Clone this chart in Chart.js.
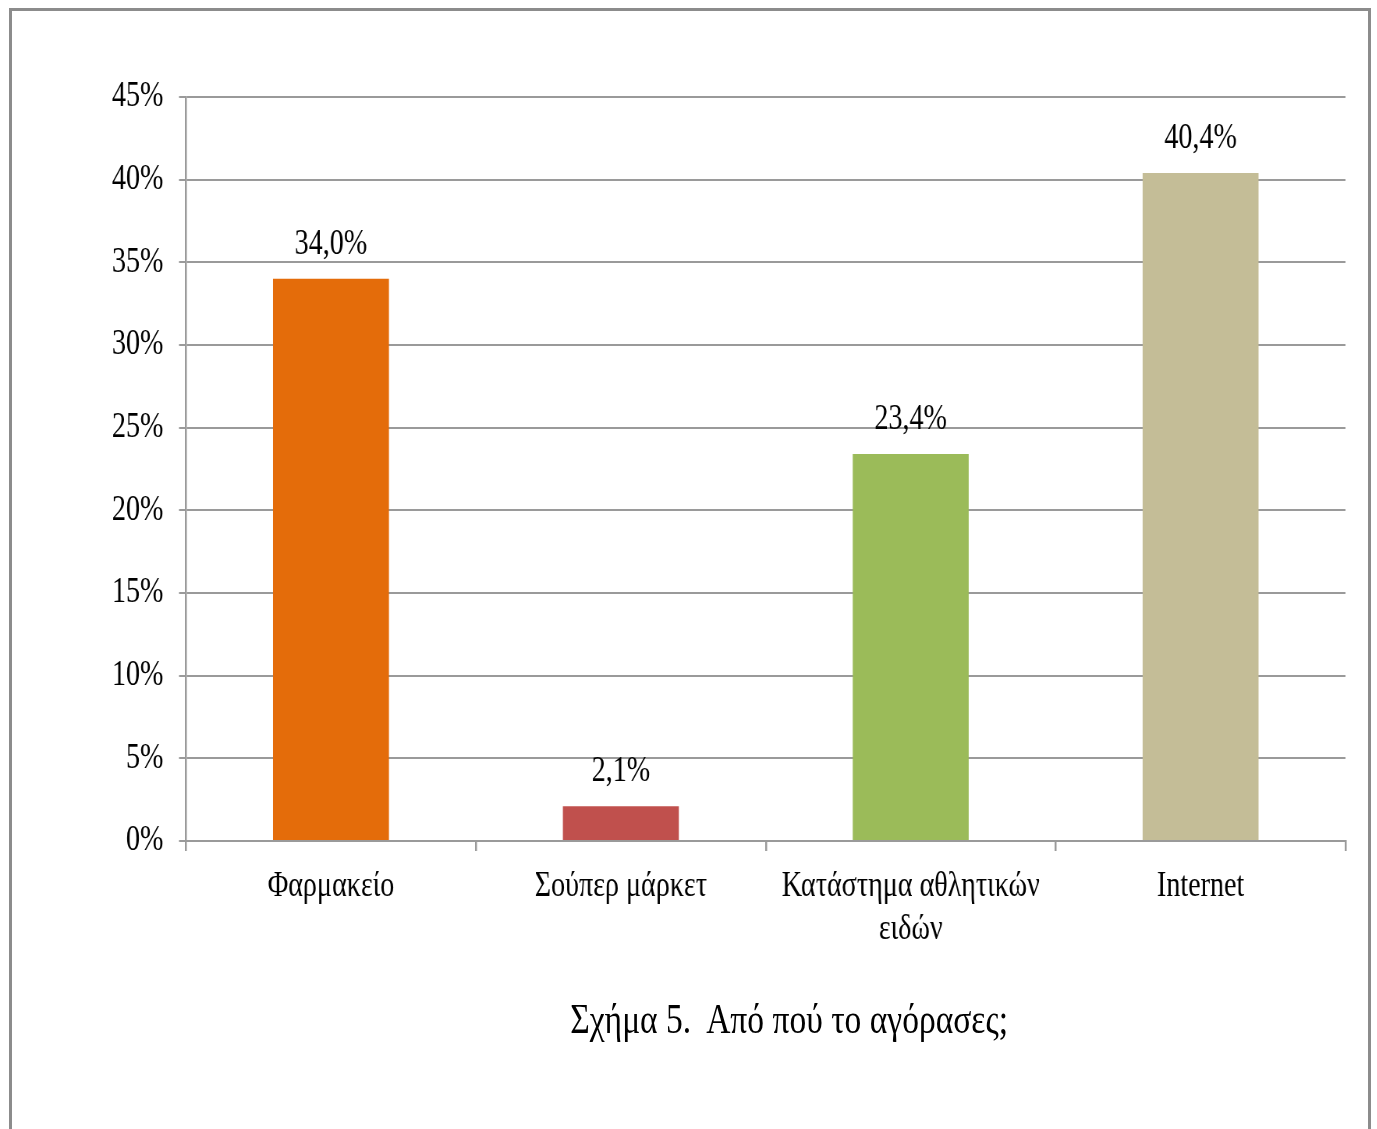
<!DOCTYPE html>
<html lang="el">
<head>
    <meta charset="UTF-8">
    <title>Σχήμα 5</title>
    <script src="https://cdn.jsdelivr.net/npm/chart.js"></script>
    <style>
        html, body {
            margin: 0;
            padding: 0;
            background: #fff;
            overflow: hidden;
        }
        body {
            width: 1377px;
            height: 1129px;
            position: relative;
            font-family: 'Liberation Serif', 'Times New Roman', serif;
        }
        .frame {
            position: absolute;
            left: 9px;
            top: 8px;
            width: 1356px;
            height: 1200px;
            border: 3px solid #8c8c8c;
            box-sizing: content-box;
        }
        /* narrow serif look: draw wide, squeeze horizontally */
        .squeeze {
            position: absolute;
            left: 0;
            top: 0;
            width: 1765px;
            height: 1129px;
            transform: scaleX(0.78);
            transform-origin: 0 0;
        }
        #chart {
            position: absolute;
            left: 0;
            top: 0;
        }
        .caption {
            position: absolute;
            left: 731px;
            top: 997px;
            font-size: 43px;
            line-height: 1;
            color: #000;
            white-space: pre;
        }
    </style>
</head>
<body>
    <div class="frame"></div>
    <div class="squeeze">
        <canvas id="chart" width="1765" height="960"></canvas>
        <div class="caption">Σχήμα 5.  Από πού το αγόρασες;</div>
    </div>

    <script>
        const categories = ['Φαρμακείο', 'Σούπερ μάρκετ', ['Κατάστημα αθλητικών', 'ειδών'], 'Internet'];
        const shares = [34.0, 2.1, 23.4, 40.4];
        const barColors = ['#E46C0A', '#C0504D', '#9BBB59', '#C4BD97'];
        const yTicks = [0, 5, 10, 15, 20, 25, 30, 35, 40, 45];

        const fontFamily = "'Liberation Serif', 'Times New Roman', serif";
        const lineColor = '#9a9a9a';

        const fmt = v => v.toFixed(1).replace('.', ',') + '%';

        // values written above each bar
        const barLabels = {
            id: 'barLabels',
            afterDatasetsDraw(chart) {
                const ctx = chart.ctx;
                const meta = chart.getDatasetMeta(0);
                ctx.save();
                ctx.font = '36px ' + fontFamily;
                ctx.fillStyle = '#000';
                ctx.textAlign = 'center';
                ctx.textBaseline = 'alphabetic';
                meta.data.forEach((bar, i) => {
                    ctx.fillText(fmt(shares[i]), bar.x, bar.y - 25);
                });
                ctx.restore();
            }
        };

        const ctx = document.getElementById('chart').getContext('2d');
        const chart = new Chart(ctx, {
            type: 'bar',
            data: {
                labels: categories,
                datasets: [{
                    data: shares,
                    backgroundColor: barColors,
                    borderWidth: 0,
                    barPercentage: 0.5,
                    categoryPercentage: 0.8
                }]
            },
            options: {
                responsive: false,
                animation: false,
                layout: { padding: { left: 0, right: 40, top: 97, bottom: 0 } },
                plugins: {
                    legend: { display: false },
                    tooltip: { enabled: false }
                },
                scales: {
                    x: {
                        grid: {
                            drawOnChartArea: false,
                            drawTicks: true,
                            tickLength: 10,
                            color: lineColor,
                            lineWidth: 2.5
                        },
                        border: { color: lineColor, width: 2 },
                        ticks: {
                            color: '#000',
                            padding: 14,
                            maxRotation: 0,
                            autoSkip: false,
                            font: { family: fontFamily, size: 36, lineHeight: 1.2 }
                        },
                        afterFit(scale) { scale.height = 119; }
                    },
                    y: {
                        min: 0,
                        max: 45,
                        afterBuildTicks(scale) {
                            scale.ticks = yTicks.map(v => ({ value: v }));
                        },
                        grid: {
                            color: lineColor,
                            lineWidth: 2,
                            tickLength: 9
                        },
                        border: { color: lineColor, width: 2.5 },
                        ticks: {
                            color: '#000',
                            padding: 20,
                            callback: v => v + '%',
                            font: { family: fontFamily, size: 36 }
                        },
                        afterFit(scale) { scale.width = 238.5; }
                    }
                }
            },
            plugins: [barLabels]
        });
    </script>
</body>
</html>
